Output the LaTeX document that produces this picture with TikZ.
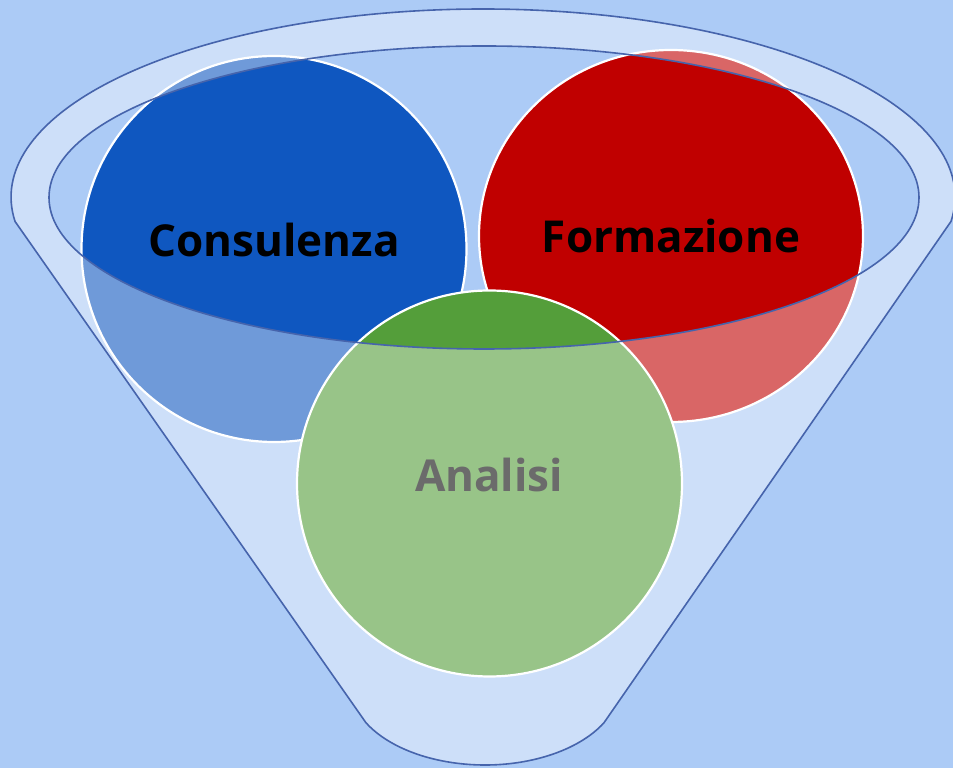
\documentclass[tikz,border=0pt]{standalone}
\usepackage{fontspec}
\setmainfont{Open Sans}
\definecolor{bgblue}{RGB}{172,203,246}
\definecolor{edgeblue}{RGB}{70,100,172}
\definecolor{cblue}{RGB}{15,87,192}
\definecolor{cred}{RGB}{192,0,0}
\definecolor{cgreen}{RGB}{84,158,58}
\definecolor{tgrey}{RGB}{107,107,107}
\tikzset{
  bubble/.style={draw=white, line width=2.2pt},
  label/.style={font=\bfseries\fontsize{44}{50}\selectfont, anchor=base, inner sep=0pt},
  funneledge/.style={draw=edgeblue, line width=1.6pt}
}
\begin{document}
\begin{tikzpicture}[x=1pt,y=1pt]
\useasboundingbox (0,0) rectangle (953,768);
\fill[bgblue] (0,0) rectangle (953,768);
% circles
\fill[cblue, bubble] (274,519) ellipse [x radius=192.5, y radius=193];
\fill[cred, bubble] (671,532) ellipse [x radius=192, y radius=186];
\fill[cgreen, bubble] (489.5,284.5) ellipse [x radius=192.5, y radius=193];
% funnel veil
\fill[white, fill opacity=0.4, even odd rule]
  (15,546.6) -- (366,45.2) arc[start angle=208.2, end angle=331.8, x radius=135, y radius=80]
  -- (951,546.6) arc[start angle=-7.46, end angle=187.46, x radius=472, y radius=188] -- cycle
  (484,570.5) ellipse [x radius=435, y radius=151.5];
\draw[funneledge, line join=round]
  (15,546.6) -- (366,45.2) arc[start angle=208.2, end angle=331.8, x radius=135, y radius=80]
  -- (951,546.6) arc[start angle=-7.46, end angle=187.46, x radius=472, y radius=188] -- cycle;
\draw[funneledge] (484,570.5) ellipse [x radius=435, y radius=151.5];
% labels
\node[label, text=black] (cons) at (274,511) {Consulenza};
\node[label, text=black] (form) at (671,515) {Formazione};
\node[label, text=tgrey] (anal) at (489,276) {Analisi};
\end{tikzpicture}
\end{document}
